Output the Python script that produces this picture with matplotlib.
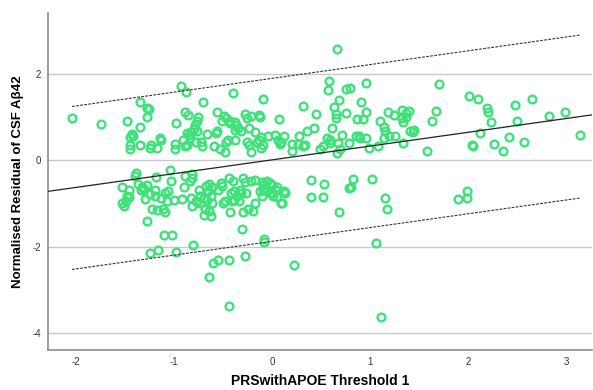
import numpy as np
import matplotlib
matplotlib.use("Agg")
from matplotlib import pyplot as plt

plt.rcParams['font.family'] = ['Liberation Sans', 'DejaVu Sans']
plt.rcParams['axes.unicode_minus'] = False

# points above the fit (x = PRS, y = residual)
upper_x = [-2.04, -1.74, -1.48, -1.35, -1.35, -1.28, -1.26, -1.28, -0.98, -0.93, -0.88, -0.89,
           -1.43, -1.42, -1.45, -1.45, -1.45, -1.35, -1.23, -1.25, -1.17, -1.14, -1.13, -0.99,
           -0.99, -0.91, -0.89, -0.87,
           -0.70, -0.40, -0.09, 0.31, 0.45, -0.86, -0.76, -0.77, -0.79, -0.80, -0.83, -0.85,
           -0.84, -0.87, -0.77, -0.56, -0.49, -0.47, -0.51, -0.43, -0.38, -0.37, -0.35, -0.38,
           -0.28, -0.26, -0.22, -0.13, -0.12, 0.07, -0.43, -0.32, -0.24, -0.18, -0.56, -0.57,
           -0.66, -0.78, -0.73, -0.72, -0.59, -0.53, -0.48, -0.47, -0.45, -0.38, -0.26, -0.24,
           -0.22, -0.15, -0.13, -0.11, -0.11, -0.09, -0.04, 0.03, 0.12, 0.06, 0.08, 0.09,
           0.20, 0.20, 0.27, 0.26, 0.31, 0.33, 0.35, 0.43, 0.49,
           0.58, 0.57, 0.75, 0.79, 0.96, 1.70, 0.68, 0.63, 0.90, 0.75, 0.96, 0.65,
           0.65, 0.86, 0.93, 1.18, 1.24, 1.32, 1.36, 1.39, 1.32, 1.33, 1.36, 1.10,
           1.14, 1.15, 1.63, 1.67, 0.61, 0.71, 0.56, 0.59, 0.59, 0.85, 0.88, 0.89,
           0.96, 1.14, 1.19, 1.25, 1.40, 1.45, 1.44, 0.78, 0.99, 1.08, 0.67, 0.66,
           0.69, 0.52, 1.33, 1.58, 0.656,
           2.01, 2.10, 2.19, 2.20, 2.47, 2.65, 2.23, 2.49, 2.82, 2.98, 2.12, 2.04,
           2.05, 2.26, 2.35, 2.41, 2.57, 3.14]
upper_y = [0.99, 0.84, 0.92, 0.78, 1.35, 1.22, 1.20, 1.01, 0.86, 1.72, 1.59, 1.12,
           0.61, 0.57, 0.54, 0.36, 0.26, 0.36, 0.36, 0.29, 0.29, 0.52, 0.46, 0.38,
           0.27, 0.46, 0.34, 0.64,
           1.36, 1.56, 1.41, 1.25, 1.08, 1.04, 1.00, 0.90, 0.81, 0.73, 0.66, 0.58,
           0.52, 0.36, 0.69, 1.13, 1.02, 0.98, 0.90, 0.90, 0.88, 0.81, 0.76, 0.71,
           1.08, 0.98, 1.03, 1.06, 1.00, 0.95, 0.86, 0.67, 0.74, 0.66, 0.69, 0.64,
           0.60, 0.43, 0.43, 0.34, 0.32, 0.27, 0.19, 0.43, 0.46, 0.46, 0.43, 0.35,
           0.19, 0.43, 0.48, 0.53, 0.29, 0.35, 0.56, 0.58, 0.57, 0.46, 0.38, 0.43,
           0.38, 0.21, 0.57, 0.38, 0.33, 0.36, 0.67, 0.75, 0.25,
           1.83, 1.63, 1.66, 1.68, 1.80, 1.76, 1.40, 1.23, 1.35, 1.09, 1.12, 0.98,
           1.07, 0.95, 0.96, 1.13, 1.04, 1.17, 1.10, 1.14, 0.97, 0.88, 1.01, 0.90,
           0.78, 0.69, 0.92, 1.15, 0.74, 0.59, 0.51, 0.48, 0.40, 0.57, 0.56, 0.52,
           0.51, 0.52, 0.56, 0.57, 0.67, 0.70, 0.65, 0.39, 0.28, 0.32, 0.39, 0.16,
           0.27, 0.32, 0.40, 0.21, 2.59,
           1.48, 1.43, 1.22, 1.12, 1.29, 1.43, 0.88, 0.91, 1.02, 1.12, 0.63, 0.36,
           0.32, 0.37, 0.22, 0.53, 0.43, 0.58]

# points below the fit
lower_x = [-1.04, -1.39, -1.40, -1.18, -1.03, -0.89, -1.53, -1.37, -1.33, -1.28, -1.46, -1.34,
           -1.31, -1.19, -1.06, -0.90, -1.46, -1.49, -1.30, -1.24, -1.13, -1.07, -1.00, -0.92,
           -1.53, -1.51, -1.22, -1.17, -1.11, -1.09, -1.28, -1.10, -1.02, -1.25, -1.16, -0.98,
           -0.81, -0.60, -0.55, -0.44, -0.28, -0.31, -0.64, -0.44, -0.08, -0.08, 0.22, 1.06,
           1.11,
           -0.82, -0.82, -0.84, -0.75, -0.67, -0.64, -0.61, -0.52, -0.51, -0.44, -0.40, -0.30,
           -0.28, -0.22, -0.18, -0.10, -0.08, -0.05, -0.02, 0.00, -0.08, -0.05, -0.12, 0.05,
           0.12, -0.65, -0.62, -0.69, -0.74, -0.78, -0.83, -0.82, -0.77, -0.74, -0.68, -0.69,
           -0.62, -0.64, -0.50, -0.43, -0.41, -0.34, -0.30, -0.20, -0.18, 0.09, -0.55, -0.42,
           -0.39, -0.36, -0.32, -0.25, -0.10, 0.00, 0.01, 0.05, 0.10, 0.13, -0.39, -0.33,
           -0.27, -0.02, 0.04, -1.09, -0.66, -0.61, -0.48, -0.09, -1.48, -1.19,
           0.40, 0.53, 0.40, 0.52, 0.78, 0.80, 0.82, 1.02, 1.15, 0.68, 1.17, 1.89,
           1.99, 1.99]
lower_y = [-0.22, -0.29, -0.37, -0.39, -0.47, -0.37, -0.61, -0.55, -0.61, -0.57, -0.68, -0.70,
           -0.66, -0.68, -0.72, -0.61, -0.86, -0.95, -0.89, -0.78, -0.87, -0.95, -0.93, -0.89,
           -1.00, -1.05, -1.12, -1.16, -1.13, -1.20, -1.40, -1.73, -1.73, -2.16, -2.09, -2.13,
           -1.97, -2.39, -2.31, -2.32, -2.23, -1.60, -2.70, -3.38, -1.82, -1.89, -2.44, -1.92,
           -3.64,
           -0.33, -0.42, -0.49, -0.68, -0.60, -0.56, -0.62, -0.52, -0.60, -0.40, -0.49, -0.40,
           -0.50, -0.49, -0.45, -0.51, -0.55, -0.49, -0.53, -0.58, -0.64, -0.72, -0.72, -0.63,
           -0.72, -0.72, -0.84, -0.87, -0.84, -0.95, -0.87, -1.05, -0.97, -0.99, -1.12, -1.28,
           -1.30, -1.17, -0.99, -1.19, -0.95, -0.95, -1.21, -1.18, -1.00, -0.99, -0.68, -0.76,
           -0.91, -0.84, -0.76, -1.12, -0.84, -0.76, -0.82, -0.85, -0.98, -0.76, -0.72, -0.70,
           -0.76, -0.77, -0.68, -0.76, -0.91, -0.99, -0.95, -0.68, -0.84, -0.84,
           -0.45, -0.54, -0.86, -0.86, -0.64, -0.62, -0.43, -0.43, -0.87, -1.20, -1.12, -0.89,
           -0.88, -0.72]

# linear fit and 95% prediction band
fit_intercept = 0.01
fit_slope = 0.32
band_half = 1.89

xs = np.array(upper_x + lower_x)
ys = np.array(upper_y + lower_y)

fig = plt.figure(figsize=(5.93, 3.90), dpi=100)
ax = fig.add_axes([0.081, 0.1026, 0.917, 0.864])
ax.set_xlim(-2.284, 3.257)
ax.set_ylim(-4.40, 3.415)

for gy in [-4, -2, 0, 2]:
    ax.axhline(gy, color='#c9c9c9', lw=1.0, zorder=0)

ax.plot(xs, ys, 'o', mfc='none', mec='#3fe27a', ms=5.6, mew=1.7, zorder=2)

xl = np.array(ax.get_xlim())
ax.plot(xl, fit_intercept + fit_slope * xl, color='#222222', lw=0.9, zorder=3)
xb = np.array([xs.min(), xs.max()])
for sgn in (1, -1):
    ax.plot(xb, fit_intercept + fit_slope * xb + sgn * band_half, color='#333333',
            lw=0.8, dashes=(2.5, 1.2), zorder=3)

for s in ['top', 'right']:
    ax.spines[s].set_visible(False)
for s in ['left', 'bottom']:
    ax.spines[s].set_color('#8c8c8c')
    ax.spines[s].set_linewidth(1.2)

ax.set_xticks([-2, -1, 0, 1, 2, 3])
ax.set_yticks([-4, -2, 0, 2])
ax.tick_params(length=0, labelsize=7, labelcolor='#333333', pad=5)
ax.set_xlabel("PRSwithAPOE Threshold 1", fontsize=10, fontweight='bold', labelpad=5)
ax.set_ylabel("Normalised Residual of CSF A\u03b242", fontsize=9.5, fontweight='bold', labelpad=6)

fig.savefig("out.png", dpi=100)
